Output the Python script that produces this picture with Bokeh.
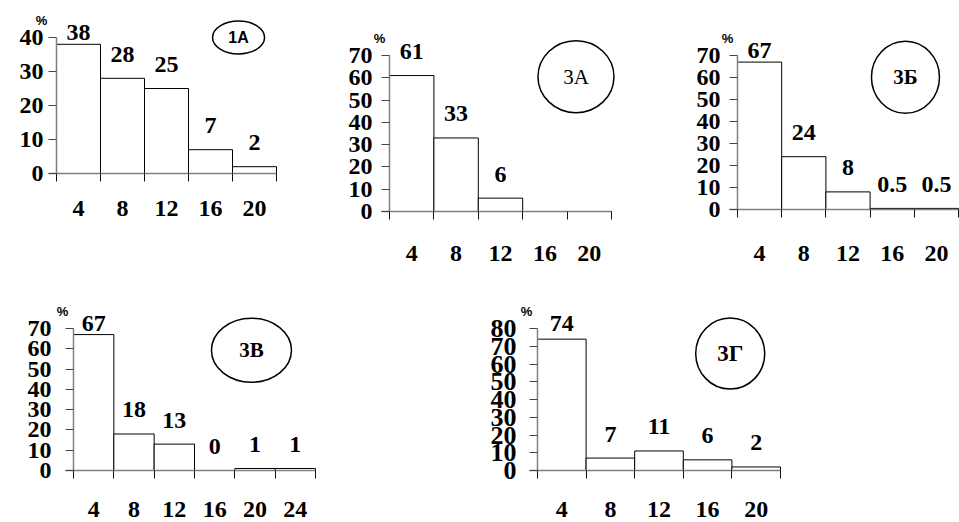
import numpy as np
from bokeh.plotting import figure
from bokeh.models import Range1d, FixedTicker, ColumnDataSource
from bokeh.layouts import row, column
from bokeh.embed import file_html
from bokeh.resources import INLINE
from bokeh.core.properties import value

# ---------------- data ----------------
bins_1a = [4, 8, 12, 16, 20]
pct_1a = [38, 28, 25, 7, 2]
lbl_1a = ["38", "28", "25", "7", "2"]
yticks_1a = [0, 10, 20, 30, 40]

bins_3a = [4, 8, 12, 16, 20]
pct_3a = [61, 33, 6, 0, 0]
lbl_3a = ["61", "33", "6", "", ""]
yticks_3a = [0, 10, 20, 30, 40, 50, 60, 70]

bins_3b = [4, 8, 12, 16, 20]
pct_3b = [67, 24, 8, 0.5, 0.5]
lbl_3b = ["67", "24", "8", "0.5", "0.5"]
yticks_3b = [0, 10, 20, 30, 40, 50, 60, 70]

bins_3v = [4, 8, 12, 16, 20, 24]
pct_3v = [67, 18, 13, 0, 1, 1]
lbl_3v = ["67", "18", "13", "0", "1", "1"]
yticks_3v = [0, 10, 20, 30, 40, 50, 60, 70]

bins_3g = [4, 8, 12, 16, 20]
pct_3g = [74, 7, 11, 6, 2]
lbl_3g = ["74", "7", "11", "6", "2"]
yticks_3g = [0, 10, 20, 30, 40, 50, 60, 70, 80]

names = ["1А", "3А", "3Б", "3В", "3Г"]

SANS = "Liberation Sans"
SERIF = "Liberation Serif"
NUM_SIZE = "24px"


def panel(bins, pct, lbls, yticks, name, name_font, name_style, name_size,
          lb, fw, rb, fh, bb, axis_px, ell, y_standoff, x_standoff, pct_dx,
          ylab_size=NUM_SIZE):
    axis_max = yticks[-1]
    ppu = axis_px / axis_max
    bw = bins[1] - bins[0]
    x0 = bins[0] - bw / 2
    x1 = bins[-1] + bw / 2
    ppx = fw / (x1 - x0)
    p = figure(width=lb + fw + rb, height=fh + bb,
               min_border_left=0, min_border_right=0,
               min_border_top=0, min_border_bottom=0,
               x_range=Range1d(x0 - lb / ppx, x1 + rb / ppx),
               y_range=Range1d(-bb / ppu, fh / ppu),
               toolbar_location=None, output_backend="svg")
    p.outline_line_color = None
    p.xgrid.visible = False
    p.ygrid.visible = False
    p.background_fill_color = "white"
    p.border_fill_color = "white"

    p.vbar(x=bins, top=pct, width=bw, bottom=0,
           fill_color="white", line_color="black", line_width=1)

    ly = [min(v + 24 / ppu, axis_max + 5 / ppu) for v in pct]
    src = ColumnDataSource(dict(x=bins, y=ly, t=lbls))
    p.text(x="x", y="y", text="t", source=src, text_align="center",
           text_baseline="middle", text_font=value(SERIF),
           text_font_style="bold", text_font_size=NUM_SIZE, text_color="black")

    cx, cy, ew, eh = ell
    p.ellipse(x=[cx], y=[cy], width=ew, height=eh,
              width_units="screen", height_units="screen",
              fill_color=None, line_color="black", line_width=1.5)
    p.text(x=[cx], y=[cy], text=[name], text_align="center",
           text_baseline="middle", text_font=value(name_font),
           text_font_style=name_style, text_font_size=name_size,
           text_color="black")

    p.text(x=[x0 + pct_dx / ppx], y=[axis_max + 17 / ppu], text=["%"],
           text_align="center", text_baseline="middle",
           text_font=value(SANS), text_font_style="bold",
           text_font_size="13px", text_color="black")

    edges = [b - bw / 2 for b in bins] + [x1]
    xa = p.xaxis[0]
    xa.fixed_location = 0
    xa.ticker = FixedTicker(ticks=bins, minor_ticks=edges)
    xa.bounds = (x0 - 8 / ppx, x1)
    xa.major_tick_out = 0
    xa.major_tick_in = 0
    xa.minor_tick_out = 8
    xa.minor_tick_in = 0
    xa.minor_tick_line_color = "#111111"
    xa.axis_line_color = "#808080"
    xa.axis_line_width = 1.5
    xa.major_label_standoff = x_standoff
    xa.major_label_text_font = SERIF
    xa.major_label_text_font_style = "bold"
    xa.major_label_text_font_size = NUM_SIZE
    xa.major_label_text_color = "black"

    ya = p.yaxis[0]
    ya.fixed_location = x0
    ya.ticker = FixedTicker(ticks=yticks)
    ya.bounds = (0, axis_max)
    ya.major_tick_out = 8
    ya.major_tick_in = 0
    ya.minor_tick_line_color = None
    ya.major_tick_line_color = "#444444"
    ya.axis_line_color = "#808080"
    ya.axis_line_width = 1.5
    ya.major_label_standoff = y_standoff
    ya.major_label_text_font = SERIF
    ya.major_label_text_font_style = "bold"
    ya.major_label_text_font_size = ylab_size
    ya.major_label_text_color = "black"
    return p


f1 = panel(bins_1a, pct_1a, lbl_1a, yticks_1a, names[0], SANS, "bold", "16px",
           56, 220, 44, 173, 60, 136, (18.55, 40, 52, 33), 5, 19, -15)
f2 = panel(bins_3a, pct_3a, lbl_3a, yticks_3a, names[1], SERIF, "normal", "21px",
           69, 222, 29, 211, 56, 156, (18.8, 60.5, 76, 72), 9, 26, -10)
f3 = panel(bins_3b, pct_3b, lbl_3b, yticks_3b, names[2], SERIF, "bold", "21px",
           97, 221, 1, 209, 58, 154, (17.2, 60.1, 68, 72), 9, 28, -10)
f4 = panel(bins_3v, pct_3v, lbl_3v, yticks_3v, names[3], SERIF, "bold", "21px",
           73, 242, 125, 203, 51, 142, (19.65, 59.3, 80, 64), 14, 23, -11)
f5 = panel(bins_3g, pct_3g, lbl_3g, yticks_3g, names[4], SERIF, "bold", "23px",
           97, 243, 20, 203, 51, 142, (17.86, 65.9, 69, 71), 13, 23, -11,
           ylab_size="26px")

layout = column(row(f1, f2, f3), row(f4, f5))
open("out.html", "w").write(file_html(layout, INLINE))
